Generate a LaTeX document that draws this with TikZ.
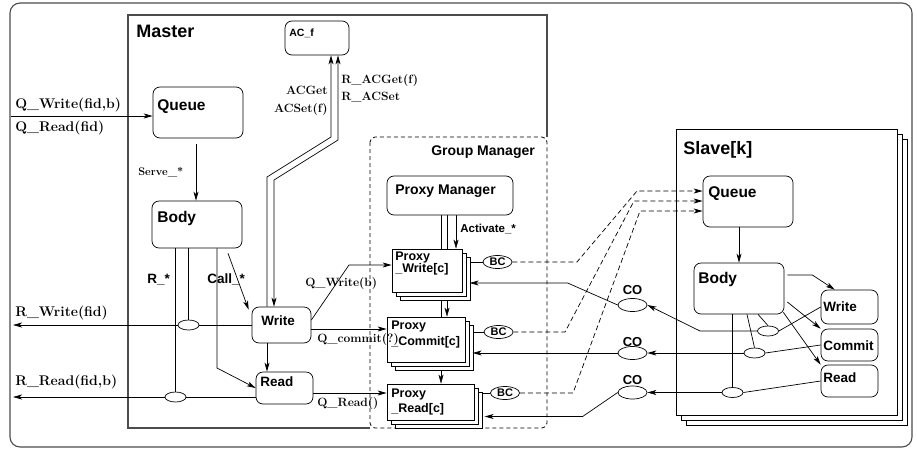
\documentclass[tikz,border=0pt]{standalone}
\usepackage{fontspec}
\newfontfamily\hv{Liberation Sans}
\usetikzlibrary{arrows.meta,shapes.geometric,shadows,backgrounds}

\begin{document}
\begin{tikzpicture}[x=1pt,y=-1pt,line width=0.7pt,
    >={Stealth[length=9pt,width=5pt,inset=2.5pt]},
    stream/.style={->},
    bcast/.style={->,dash pattern=on 5pt off 3pt},
    boxline/.style={draw=black!70,line width=1.1pt},
    blk/.style 2 args={draw,fill=white,rounded corners=7pt,inner sep=0pt,
        minimum width=#1,minimum height=#2},
    pstack/.style 2 args={draw,fill=white,inner sep=0pt,
        minimum width=#1,minimum height=#2,
        copy shadow={shadow xshift=8pt,shadow yshift=-8pt,fill=white,draw},
        copy shadow={shadow xshift=4pt,shadow yshift=-4pt,fill=white,draw}},
    jn/.style={draw,ellipse,fill=white,inner sep=0pt,
        minimum width=21pt,minimum height=10pt},
    tap/.style={draw,ellipse,fill=white,inner sep=0pt,
        minimum width=29pt,minimum height=13pt,
        font=\hv\bfseries\fontsize{11}{11}\selectfont},
    hvtext/.style={font=\hv\bfseries\fontsize{#1}{#1}\selectfont,
        anchor=base west,inner sep=0pt},
    cmtext/.style={font=\bfseries\fontsize{#1}{#1}\selectfont,
        anchor=base west,inner sep=0pt}]
    \useasboundingbox (0,0) rectangle (917,450);
    \draw[boxline,rounded corners=10pt] (10,3) rectangle (912,447);

    % Master
    \draw[boxline] (547,137) -- (547,15) -- (128,15) -- (128,428) -- (370,428);
    \node[hvtext=18] (tmaster) at (136,37) {Master};

    % Slave
    \node[draw,fill=white,inner sep=0pt,minimum width=221pt,minimum height=286pt,
        copy shadow={shadow xshift=10pt,shadow yshift=-10pt,fill=white,draw},
        copy shadow={shadow xshift=5pt,shadow yshift=-5pt,fill=white,draw}]
        (slave) at (786.5,272) {};
    \node[hvtext=18] (tslave) at (683,154) {Slave[k]};

    % Group Manager
    \draw[dash pattern=on 4pt off 3pt,rounded corners=5pt,line width=0.8pt]
        (370,137) rectangle (547,428);
    \node[hvtext=14] (tgm) at (431,155) {Group Manager};

    % master blocks
    \node[blk={64pt}{34pt}] (acf) at (317,38) {};
    \node[hvtext=10.5] (tacf) at (289,36) {AC\_f};
    \node[blk={90pt}{51pt}] (mqueue) at (198,112.5) {};
    \node[hvtext=15.5] (tmqueue) at (157,110) {Queue};
    \node[blk={90pt}{47pt}] (mbody) at (197,224.5) {};
    \node[hvtext=15.5] (tmbody) at (157,222) {Body};
    \node[blk={59pt}{36pt}] (mwrite) at (281.5,325) {};
    \node[hvtext=13.5] (tmwrite) at (261,325) {Write};
    \node[blk={57pt}{32pt}] (mread) at (284.5,388) {};
    \node[hvtext=13.5] (tmread) at (260,386) {Read};
    \node[jn] (me1) at (188.5,325) {};
    \node[jn] (me2) at (175.5,397) {};

    \coordinate (inq) at (11,116);
    \coordinate (outw) at (13,325);
    \coordinate (outr) at (13,397);
    \draw[stream] (inq) -- (inq -| mqueue.west);
    \node[cmtext=14] (tqw) at (15,108.5) {Q\_Write(fid,b)};
    \node[cmtext=14] (tqr) at (15,131.5) {Q\_Read(fid)};
    \draw[stream] ([xshift=-2pt,yshift=-6pt]mqueue.south) -- ([xshift=-1pt]mbody.north);
    \node[cmtext=11] (tserve) at (138,175) {Serve\_*};

    \draw (me1.north |- mbody.south) -- (me1.north);
    \draw (me2.north |- mbody.south) -- (me2.north);
    \draw[stream] (217,0 |- mbody.south) -- (217,368) -- (mread.west);
    \draw[stream] ([xshift=31pt,yshift=-5pt]mbody.south) -- ([xshift=-3pt,yshift=-3pt]mwrite.north west);
    \node[hvtext=13.5] (trs) at (147,283) {R\_*};
    \node[hvtext=13.5] (tcall) at (207,283) {Call\_*};
    \draw (mwrite.west) -- (me1.east);
    \draw[stream] (me1.west) -- (outw);
    \draw (mread.west |- me2) -- (me2.east);
    \draw[stream] (me2.west) -- (outr);
    \node[cmtext=14] (trw) at (15,316.5) {R\_Write(fid)};
    \node[cmtext=14] (trr) at (15,385.5) {R\_Read(fid,b)};
    \draw[stream] (267,0 |- mwrite.south) -- (267,0 |- mread.north);

    % AC_f access
    \draw[stream] (267,0 |- mwrite.north) -- (267,177) -- (331,137) -- (331,0 |- acf.south);
    \draw[<->] (274,0 |- mwrite.north) -- (274,180) -- (338,140) -- (338,0 |- acf.south);
    \node[cmtext=12,anchor=base east] (tacget) at (328,94) {ACGet};
    \node[cmtext=12,anchor=base east] (tacset) at (328,112) {ACSet(f)};
    \node[cmtext=12] (tracget) at (341,83) {R\_ACGet(f)};
    \node[cmtext=12] (tracset) at (341,100) {R\_ACSet};

    % proxies
    \node[blk={126pt}{39pt}] (pman) at (450,195.5) {};
    \node[hvtext=14] (tpman) at (395,194) {Proxy Manager};
    \node[pstack={70pt}{43pt}] (pwrite) at (427,270.5) {};
    \node[pstack={78pt}{45pt}] (pcommit) at (426,339.5) {};
    \node[pstack={87pt}{36pt}] (pread) at (430.5,402) {};
    \begin{scope}[on background layer]
        \draw[stream] (441,0 |- pman.south) -- (441,0 |- pread.north);
        \draw[stream] (447,0 |- pman.south) -- (447,0 |- pcommit.north);
        \draw[stream] (456,0 |- pman.south) -- (456,0 |- pwrite.north);
    \end{scope}
    \node[hvtext=11.5] (tact) at (460,232) {Activate\_*};
    \node[hvtext=12.5] (tpw1) at (395,260) {Proxy};
    \node[hvtext=12.5] (tpw2) at (395,272) {\_Write[c]};
    \node[hvtext=12.5] (tpc1) at (391,329) {Proxy};
    \node[hvtext=12.5] (tpc2) at (391,345) {\_Commit[c]};
    \node[hvtext=12.5] (tpr1) at (391,397) {Proxy};
    \node[hvtext=12.5] (tpr2) at (391,412) {\_Read[c]};

    \draw[stream] (mwrite.east |- 0,320) -- (349,265) -- (pwrite.west |- 0,265);
    \draw[stream] (mwrite.east |- 0,329) -- (pcommit.west |- 0,329);
    \draw[stream] (mread.east |- 0,393) -- (pread.west |- 0,393);
    \node[cmtext=12] (tqwb) at (305,286) {Q\_Write(b)};
    \node[cmtext=12] (tqc) at (317,342) {Q\_commit(?)};
    \node[cmtext=12] (tqrd) at (317,406) {Q\_Read()};

    % BC / CO
    \node[tap] (bc1) at (497.5,262) {BC};
    \node[tap] (bc2) at (498.5,332) {BC};
    \node[tap] (bc3) at (505,393) {BC};
    \draw (bc1.west) -- ++(-13,0);
    \draw (bc2.west) -- ++(-11,0);
    \draw (bc3.west) -- ++(-8.5,0);
    \node[tap] (co1) at (632.5,305) {};
    \node[tap] (co2) at (632.5,353) {};
    \node[tap] (co3) at (632.5,392.5) {};
    \node[hvtext=13,anchor=base] (tco1) at (632.5,294) {CO};
    \node[hvtext=13,anchor=base] (tco2) at (632.5,346) {CO};
    \node[hvtext=13,anchor=base] (tco3) at (632.5,384) {CO};
    \draw[stream] (co1.west) -- ++(-50,-22) -- ++(-98,0);
    \draw[stream] (co2.west) -- ++(-145,0);
    \draw[stream] (co3.west) -- ++(-35,24) -- ++(-98,0);

    % slave blocks
    \node[blk={90pt}{51pt}] (squeue) at (748,201.5) {};
    \node[hvtext=15.5] (tsqueue) at (708,197) {Queue};
    \node[blk={90pt}{51pt}] (sbody) at (739,288.5) {};
    \node[hvtext=15.5] (tsbody) at (698,283) {Body};
    \node[blk={57pt}{34pt}] (swrite) at (849.5,307) {};
    \node[hvtext=13.5] (tswrite) at (823,311) {Write};
    \node[blk={57pt}{32pt}] (scommit) at (849.5,345) {};
    \node[hvtext=13.5] (tscommit) at (823,350) {Commit};
    \node[blk={57pt}{32pt}] (sread) at (849.5,381) {};
    \node[hvtext=13.5] (tsread) at (823,382) {Read};
    \node[jn] (se1) at (768,331) {};
    \node[jn] (se2) at (754.5,353) {};
    \node[jn] (se3) at (732.5,392.5) {};

    \draw[bcast] (bc1.east) -- (577,262) -- (637,191) -- (squeue.west |- 0,191);
    \draw[bcast] (bc2.east) -- (565,332) -- (634,201) -- (squeue.west |- 0,201);
    \draw[bcast] (bc3.east) -- (573,393) -- (640,211) -- (squeue.west |- 0,211);

    \draw[stream] (sbody.north |- squeue.south) -- (sbody.north);
    \draw[stream] ([shift={(3pt,13.5pt)}]sbody.east) -- ++(25,0) -- ([xshift=14pt]swrite.north west);
    \draw[stream] ([shift={(3pt,-13.5pt)}]sbody.east) -- (scommit.north west);
    \draw[stream] ([shift={(-1pt,2pt)}]sbody.south east) -- (sread.north west);
    \draw (se1.north) -- ([xshift=19pt]sbody.south);
    \draw (se2.north) -- ([xshift=8pt]sbody.south);
    \draw (se3.north) -- (se3.north |- sbody.south);
    \draw (swrite.west) -- (se1.east);
    \draw (scommit.west) -- (se2.east);
    \draw (sread.west) -- (se3.east);
    \draw[stream] (se1.west) -- (700,331) -- (co1.east);
    \draw[stream] (se2.west) -- (co2.east);
    \draw[stream] (se3.west) -- (co3.east);
\end{tikzpicture}
\end{document}
